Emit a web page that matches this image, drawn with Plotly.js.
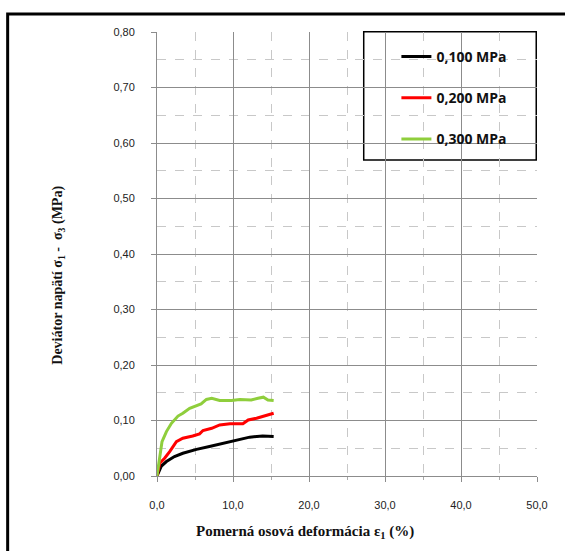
<!DOCTYPE html>
<html><head><meta charset="utf-8">
<script src="https://cdn.plot.ly/plotly-3.0.1.min.js"></script>
<style>body{margin:0;background:#fff}#c{width:565px;height:551px}</style>
</head><body><div id="c"></div>
<script>
// Data
const seriesNames = ["0,100 MPa", "0,200 MPa", "0,300 MPa"];
const x100 = [0, 0.58, 1.24, 2.3, 3.4, 5.2, 6.9, 8.7, 10.4, 12.2, 13.9, 15.35];
const y100 = [0, 0.018, 0.026, 0.035, 0.041, 0.048, 0.053, 0.059, 0.065, 0.070, 0.072, 0.071];
const x200 = [0, 0.36, 1.0, 1.67, 2.55, 3.4, 4.7, 5.6, 6.05, 7.2, 8.25, 9.6, 11.3, 12.0, 13.1, 14.4, 15.35];
const y200 = [0, 0.023, 0.032, 0.044, 0.062, 0.068, 0.072, 0.076, 0.082, 0.086, 0.092, 0.094, 0.094, 0.101, 0.104, 0.110, 0.113];
const x300 = [0, 0.36, 0.66, 1.24, 1.9, 2.76, 3.4, 4.3, 5.2, 5.8, 6.5, 7.2, 8.25, 9.8, 10.9, 12.4, 13.3, 14.0, 14.6, 15.35];
const y300 = [0, 0.035, 0.062, 0.080, 0.095, 0.108, 0.113, 0.122, 0.126, 0.130, 0.138, 0.140, 0.136, 0.136, 0.138, 0.137, 0.140, 0.142, 0.137, 0.136];
const colors = ["#000000", "#ff0000", "#8fce3c"];

const xs = [x100, x200, x300], ys = [y100, y200, y300];
const traces = xs.map((x, i) => ({
  x: x, y: ys[i], type: "scatter", mode: "lines", name: seriesNames[i],
  line: {color: colors[i], width: 3}, legendgroup: "g" + i
}));

const layout = {
  width: 565, height: 551,
  margin: {l: 157, r: 28, t: 32, b: 75},
  paper_bgcolor: "#fff", plot_bgcolor: "#fff",
  separators: ", ",
  font: {family: "Liberation Sans, Arial, sans-serif", size: 11, color: "#222"},
  showlegend: true,
  legend: {
    x: 0.63, y: 0.98, xanchor: "left", yanchor: "top",
    bgcolor: "rgba(0,0,0,0)", borderwidth: 0,
    tracegroupgap: 20,
    font: {family: "Open Sans, Liberation Sans, sans-serif", size: 14, color: "#111", weight: "bold"},
    itemwidth: 30
  },
  xaxis: {
    range: [0, 50], dtick: 10, tickformat: ".1f",
    showgrid: true, gridcolor: "#8c8c8c", gridwidth: 1,
    showline: true, linecolor: "#8c8c8c", linewidth: 1, mirror: false,
    ticks: "outside", ticklen: 5, tickcolor: "#8c8c8c",
    ticklabelstandoff: 14, zeroline: false,
    minor: {dtick: 5, showgrid: true, gridcolor: "#c8c8c8", griddash: "dash", gridwidth: 1, ticks: "outside", ticklen: 3, tickcolor: "#aaa"}
  },
  yaxis: {
    range: [0, 0.8], dtick: 0.1, tickformat: ".2f",
    showgrid: true, gridcolor: "#8c8c8c", gridwidth: 1,
    showline: true, linecolor: "#8c8c8c", linewidth: 1,
    ticks: "outside", ticklen: 5, tickcolor: "#8c8c8c",
    ticklabelstandoff: 14, zeroline: false,
    minor: {dtick: 0.05, showgrid: true, gridcolor: "#c8c8c8", griddash: "dash", gridwidth: 1}
  },
  shapes: [
    {type: "rect", xref: "paper", yref: "paper", x0: -0.393, x1: 2, y0: -1, y1: 1.0405,
     line: {color: "#000", width: 3}, fillcolor: "rgba(0,0,0,0)", layer: "above"},
    {type: "rect", xref: "paper", yref: "paper", x0: 0.544, x1: 0.998, y0: 0.7117, y1: 1.0007,
     line: {color: "#000", width: 1.5}, fillcolor: "#fff", layer: "below"}
  ],
  annotations: [
    {text: "Pomerná osová deformácia ε<sub>1</sub> (%)", xref: "paper", yref: "paper",
     x: (305 - 157.3) / 380, y: (476 - 532) / 444, showarrow: false, xanchor: "center", yanchor: "middle",
     font: {family: "Liberation Serif, Times New Roman, serif", size: 15, color: "#111", weight: "bold"}},
    {text: "Deviátor napätí σ<sub>1</sub> -  σ<sub>3</sub> (MPa)", xref: "paper", yref: "paper",
     x: (58 - 157.3) / 380, y: (476 - 275) / 444, showarrow: false, textangle: -90, xanchor: "center", yanchor: "middle",
     font: {family: "Liberation Serif, Times New Roman, serif", size: 14, color: "#111", weight: "bold"}}
  ]
};
Plotly.newPlot("c", traces, layout, {displayModeBar: false, staticPlot: true});
</script></body></html>
